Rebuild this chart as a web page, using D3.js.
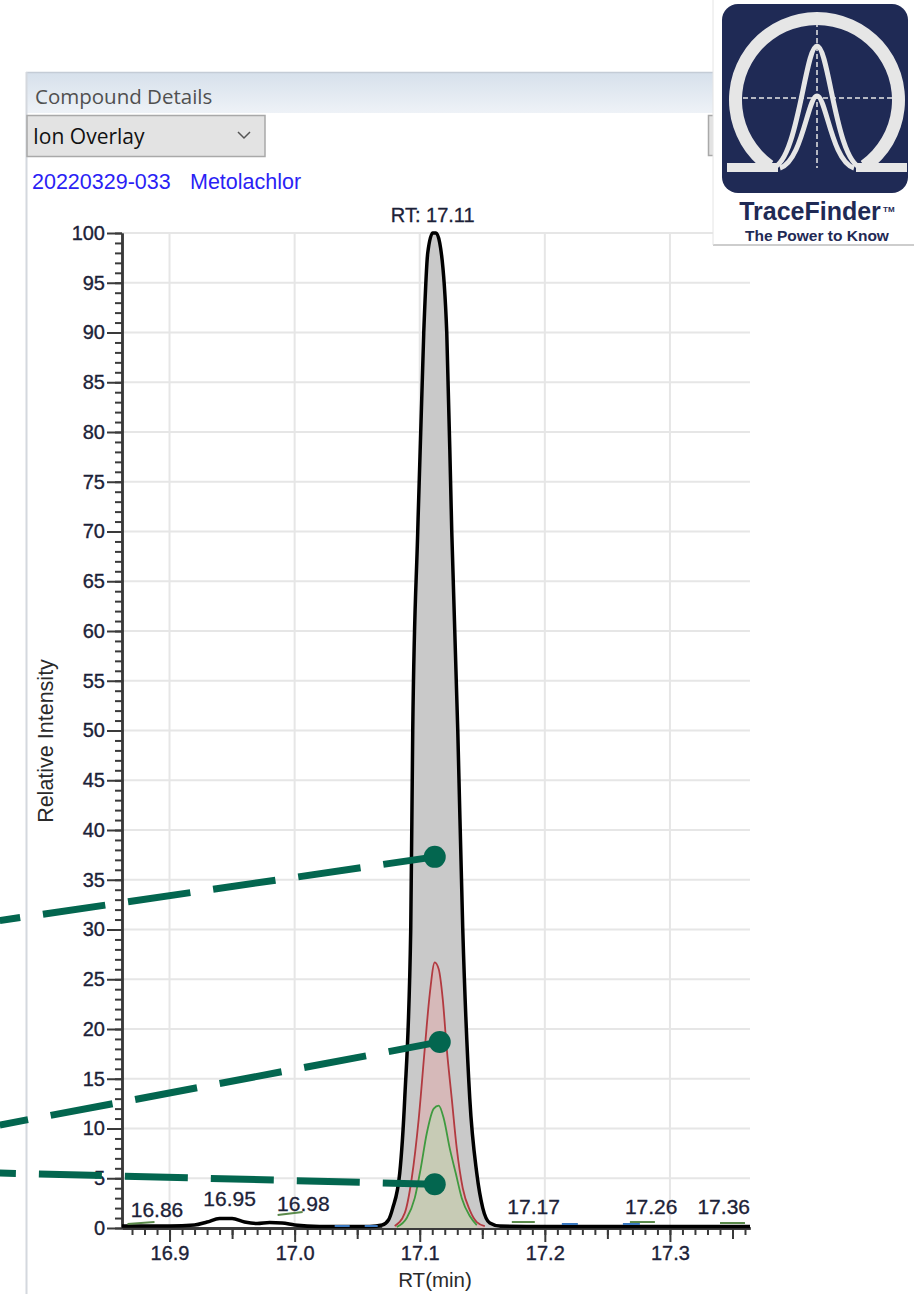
<!DOCTYPE html>
<html>
<head>
<meta charset="utf-8">
<script src="https://cdn.jsdelivr.net/npm/d3@7"></script>
<style>
  body { margin: 0; background: #fff; }
  svg { display: block; }
</style>
</head>
<body>
<div id="chart"></div>
<script>
/* chromatogram traces (RT in min, relative intensity in %) */
var rt_black = [16.862, 16.90, 16.92, 16.93, 16.94, 16.95, 16.96, 16.97, 16.98, 16.99, 17.00, 17.02, 17.06, 17.07,
                17.075, 17.0784, 17.084, 17.088, 17.0928, 17.0944, 17.0984, 17.1032, 17.1064, 17.1104, 17.113, 17.116,
                17.1216, 17.1256, 17.1304, 17.1344, 17.14, 17.1456, 17.1504, 17.156, 17.164, 17.20, 17.30, 17.364];
var int_black = [0.2, 0.2, 0.3, 0.6, 0.95, 0.95, 0.6, 0.45, 0.55, 0.5, 0.3, 0.15, 0.15, 0.3,
                 0.8, 2, 5.5, 13, 30, 50, 70, 90, 98, 100, 100, 99,
                 90, 70, 50, 30, 13, 5.5, 2, 0.5, 0.2, 0.15, 0.15, 0.15];

var rt_red = [17.080, 17.088, 17.0936, 17.0992, 17.104, 17.108, 17.112, 17.1152, 17.1184, 17.1216, 17.1256, 17.1296, 17.1344, 17.14, 17.1456, 17.152];
var int_red = [0.2, 1.5, 5, 11, 18, 23.5, 26.7, 26, 23, 18, 13, 8, 4, 1.8, 0.6, 0.2];

var rt_green = [17.0816, 17.0896, 17.096, 17.1008, 17.1056, 17.1112, 17.1152, 17.1192, 17.124, 17.1288, 17.1336, 17.14, 17.1456];
var int_green = [0.1, 1, 3, 6, 9.5, 12, 12.3, 11, 8, 5.5, 3, 1.2, 0.3];

// peak apex labels
var peak_labels = ["16.86", "16.95", "16.98", "17.17", "17.26", "17.36"];
var peak_label_rt = [16.869, 16.948, 16.986, 17.17, 17.264, 17.364];
var peak_label_int = [1.0, 2.1, 1.6, 1.3, 1.3, 1.3];
var peak_label_anchor = ["start", "middle", "start", "start", "start", "end"];

// small integration baselines of the other ions: [rt0, int0, rt1, int1, colour]
var marker_segments = [
  [16.8664, 0.4, 16.888, 0.6, "#5a8a4a"],
  [16.9864, 1.3, 17.0064, 1.6, "#5a8a4a"],
  [17.032, 0.2, 17.044, 0.2, "#3a78c0"],
  [17.056, 0.2, 17.0664, 0.2, "#3a78c0"],
  [17.1736, 0.6, 17.192, 0.6, "#5a8a4a"],
  [17.2136, 0.4, 17.2264, 0.4, "#3a78c0"],
  [17.2624, 0.4, 17.276, 0.4, "#3a78c0"],
  [17.268, 0.6, 17.288, 0.6, "#5a8a4a"],
  [17.34, 0.5, 17.36, 0.5, "#5a8a4a"]
];

var y_ticks = d3.range(0, 101, 5);
var x_tick_values = [16.9, 17.0, 17.1, 17.2, 17.3];
var x_tick_labels = ["16.9", "17.0", "17.1", "17.2", "17.3"];

// callout lines: dot on the peak, running off the left edge
var callout_dot_rt = [17.112, 17.116, 17.112];
var callout_dot_int = [37.3, 18.7, 4.4];
var callout_end_rt = [16.7643, 16.7643, 16.7643];
var callout_end_int = [30.9, 10.35, 5.53];

var width = 914, height = 1294;
var plot = {left: 122, right: 750, top: 233, bottom: 1228};

var svg = d3.select("#chart").append("svg")
            .attr("width", width)
            .attr("height", height);

var defs = svg.append("defs");
var grad = defs.append("linearGradient").attr("id", "titlebar")
               .attr("x1", 0).attr("y1", 0).attr("x2", 0).attr("y2", 1);
grad.append("stop").attr("offset", "0%").attr("stop-color", "#d6e0eb");
grad.append("stop").attr("offset", "100%").attr("stop-color", "#eef2f7");

svg.append("rect").attr("width", width).attr("height", height).style("fill", "#fff");

/* window chrome */
var uiFont = "'Open Sans', 'Noto Sans', sans-serif";
svg.append("rect").attr("x", 26).attr("y", 72).attr("width", width - 26).attr("height", 41)
   .style("fill", "url(#titlebar)");
svg.append("line").attr("x1", 26).attr("x2", width).attr("y1", 72.5).attr("y2", 72.5)
   .style("stroke", "#c4ccd6").style("stroke-width", 1.5);
svg.append("line").attr("x1", 26.5).attr("x2", 26.5).attr("y1", 72).attr("y2", height)
   .style("stroke", "#d4d8de").style("stroke-width", 2);
svg.append("text").attr("x", 35).attr("y", 104)
   .text("Compound Details")
   .style("font-family", uiFont).style("font-size", "20.5px").style("fill", "#505050");

// dropdown
svg.append("rect").attr("x", 27).attr("y", 115.5).attr("width", 238).attr("height", 41)
   .style("fill", "#e3e3e3").style("stroke", "#a9a9a9").style("stroke-width", 1.5);
svg.append("text").attr("x", 33).attr("y", 144)
   .text("Ion Overlay")
   .style("font-family", uiFont).style("font-size", "21px").style("fill", "#111");
svg.append("path").attr("d", "M238,132 L244,138 L250,132")
   .style("fill", "none").style("stroke", "#555").style("stroke-width", 1.5);
svg.append("rect").attr("x", 708.5).attr("y", 115.5).attr("width", 30).attr("height", 40)
   .style("fill", "#e3e3e3").style("stroke", "#a9a9a9").style("stroke-width", 1.5);

svg.append("text").attr("x", 32).attr("y", 189)
   .text("20220329-033")
   .style("font-family", "'Liberation Sans', Arial, sans-serif").style("font-size", "21.5px").style("fill", "#2b1ff5");
svg.append("text").attr("x", 190).attr("y", 189)
   .text("Metolachlor")
   .style("font-family", "'Liberation Sans', Arial, sans-serif").style("font-size", "21.5px").style("fill", "#2b1ff5");

/* scales */
var x = d3.scaleLinear().domain([16.862, 17.364]).range([plot.left, plot.right]);
var y = d3.scaleLinear().domain([0, 100]).range([plot.bottom, plot.top]);

/* grid */
var grid = svg.append("g").attr("class", "grid");
grid.selectAll("line.h").data(y_ticks.filter(function(d) { return d > 0; }))
    .enter().append("line").attr("class", "h")
    .attr("x1", plot.left).attr("x2", plot.right)
    .attr("y1", function(d) { return y(d); }).attr("y2", function(d) { return y(d); })
    .style("stroke", "#e6e6e6").style("stroke-width", 2);
grid.selectAll("line.v").data(x_tick_values)
    .enter().append("line").attr("class", "v")
    .attr("x1", function(d) { return x(d); }).attr("x2", function(d) { return x(d); })
    .attr("y1", plot.top).attr("y2", plot.bottom)
    .style("stroke", "#e6e6e6").style("stroke-width", 2);

/* axes */
var tickFont = "'Liberation Sans', Arial, sans-serif";

svg.append("g").attr("transform", "translate(" + plot.left + ",0)")
   .call(d3.axisLeft(y).tickValues(d3.range(0, 101)).tickSize(7).tickSizeOuter(0).tickFormat(""));
svg.append("g").attr("class", "yaxis").attr("transform", "translate(" + plot.left + ",0)")
   .call(d3.axisLeft(y).tickValues(y_ticks).tickSize(15).tickSizeOuter(0).tickPadding(2).tickFormat(d3.format("d")));

var x_minor = d3.range(1687, 1737).map(function(d) { return d / 100; });
var x_mid = [16.95, 17.05, 17.15, 17.25, 17.35];
svg.append("g").attr("transform", "translate(0," + plot.bottom + ")")
   .call(d3.axisBottom(x).tickValues(x_minor).tickSize(7).tickSizeOuter(0).tickFormat(""));
svg.append("g").attr("transform", "translate(0," + plot.bottom + ")")
   .call(d3.axisBottom(x).tickValues(x_mid).tickSize(11).tickSizeOuter(0).tickFormat(""));
svg.append("g").attr("class", "xaxis").attr("transform", "translate(0," + plot.bottom + ")")
   .call(d3.axisBottom(x).tickValues(x_tick_values).tickSize(14).tickSizeOuter(0).tickPadding(4)
           .tickFormat(function(d, i) { return x_tick_labels[i]; }));

svg.selectAll(".domain").style("stroke", "#3a3a3a").style("stroke-width", 2.5);
svg.selectAll(".tick line").style("stroke", "#3a3a3a").style("stroke-width", 2);
svg.selectAll(".tick text").style("font-family", tickFont).style("font-size", "20px").style("fill", "#1c2238")
   .style("stroke", "#1c2238").style("stroke-width", 0.35);

svg.append("text")
   .attr("transform", "translate(53,741) rotate(-90)")
   .attr("text-anchor", "middle")
   .text("Relative Intensity")
   .style("font-family", tickFont).style("font-size", "21.5px").style("fill", "#2a2a2a");
svg.append("text").attr("x", 435).attr("y", 1287).attr("text-anchor", "middle")
   .text("RT(min)")
   .style("font-family", tickFont).style("font-size", "20.5px").style("fill", "#2a2a2a");

/* traces */
function pts(rts, ints) {
  return rts.map(function(r, i) { return [r, ints[i]]; });
}
var black = pts(rt_black, int_black);
var red = pts(rt_red, int_red);
var green = pts(rt_green, int_green);

var line = d3.line().x(function(d) { return x(d[0]); }).y(function(d) { return y(d[1]); })
             .curve(d3.curveMonotoneX);
var area = d3.area().x(function(d) { return x(d[0]); }).y0(y(0)).y1(function(d) { return y(d[1]); })
             .curve(d3.curveMonotoneX);

var peak_only = black.filter(function(d) { return d[0] >= 17.07 && d[0] <= 17.164; });
svg.append("path").datum(peak_only).attr("d", area).style("fill", "#c9c9c9");
svg.append("path").datum(red).attr("d", area).style("fill", "#d6b9b9");
svg.append("path").datum(green).attr("d", area).style("fill", "#c7cbb5");

svg.append("path").datum(red).attr("d", line)
   .style("fill", "none").style("stroke", "#b23a40").style("stroke-width", 1.8);
svg.append("path").datum(green).attr("d", line)
   .style("fill", "none").style("stroke", "#3f9a3f").style("stroke-width", 1.8);
svg.append("path").datum(black).attr("d", line)
   .style("fill", "none").style("stroke", "#000").style("stroke-width", 3.5).style("stroke-linejoin", "round");

// other ions' integration marks
svg.selectAll("line.marker").data(marker_segments)
   .enter().append("line").attr("class", "marker")
   .attr("x1", function(d) { return x(d[0]); }).attr("y1", function(d) { return y(d[1]); })
   .attr("x2", function(d) { return x(d[2]); }).attr("y2", function(d) { return y(d[3]); })
   .style("stroke", function(d) { return d[4]; }).style("stroke-width", 2);

// labels
svg.selectAll("text.peak").data(peak_labels)
   .enter().append("text").attr("class", "peak")
   .attr("x", function(d, i) { return x(peak_label_rt[i]); })
   .attr("y", function(d, i) { return y(peak_label_int[i]) - 1; })
   .attr("text-anchor", function(d, i) { return peak_label_anchor[i]; })
   .text(function(d) { return d; })
   .style("font-family", tickFont).style("font-size", "21px").style("fill", "#1c2238")
   .style("stroke", "#1c2238").style("stroke-width", 0.3);

svg.append("text").attr("x", x(17.1104)).attr("y", 222).attr("text-anchor", "middle")
   .text("RT: 17.11")
   .style("font-family", tickFont).style("font-size", "20px").style("fill", "#1c2238")
   .style("stroke", "#1c2238").style("stroke-width", 0.3);

/* callouts */
var callout_color = "#03664f";
var callouts = callout_dot_rt.map(function(r, i) {
  return {x1: x(r), y1: y(callout_dot_int[i]), x2: x(callout_end_rt[i]), y2: y(callout_end_int[i])};
});
svg.selectAll("line.callout").data(callouts)
   .enter().append("line").attr("class", "callout")
   .attr("x1", function(d) { return d.x1; }).attr("y1", function(d) { return d.y1; })
   .attr("x2", function(d) { return d.x2; }).attr("y2", function(d) { return d.y2; })
   .style("stroke", callout_color).style("stroke-width", 7)
   .style("stroke-dasharray", "63,23").style("stroke-dashoffset", 11);
svg.selectAll("circle.callout").data(callouts)
   .enter().append("circle").attr("class", "callout")
   .attr("cx", function(d) { return d.x1; }).attr("cy", function(d) { return d.y1; })
   .attr("r", 11).style("fill", callout_color);

/* TraceFinder logo */
var logo = svg.append("g").attr("class", "logo");
var logoInk = "#e6e6e6";
logo.append("rect").attr("x", 713).attr("y", 0).attr("width", 201).attr("height", 245).style("fill", "#fff");
logo.append("line").attr("x1", 713).attr("x2", 914).attr("y1", 245).attr("y2", 245)
    .style("stroke", "#bdbdbd").style("stroke-width", 1.5);
logo.append("line").attr("x1", 713).attr("x2", 713).attr("y1", 0).attr("y2", 245)
    .style("stroke", "#e4e4e4").style("stroke-width", 1);
logo.append("rect").attr("x", 722).attr("y", 4).attr("width", 186).attr("height", 189).attr("rx", 16)
    .style("fill", "#1f2a55");
logo.append("line").attr("x1", 817).attr("x2", 817).attr("y1", 14).attr("y2", 168)
    .style("stroke", logoInk).style("stroke-width", 1.5).style("stroke-dasharray", "5,3");
logo.append("line").attr("x1", 735).attr("x2", 900).attr("y1", 98).attr("y2", 98)
    .style("stroke", logoInk).style("stroke-width", 1.5).style("stroke-dasharray", "5,3");
logo.append("path")
    .attr("transform", "translate(817,100)")
    .attr("d", d3.arc().innerRadius(75).outerRadius(88).startAngle(-2.52).endAngle(2.52)())
    .style("fill", logoInk);
logo.append("path").attr("d", "M727,163 L778,163 L778,172 L727,172 Z M856,163 L907,163 L907,172 L856,172 Z")
    .style("fill", logoInk);
logo.append("path").attr("d", "M772,168 C798,164 805,46 817,46 C829,46 836,164 862,168")
    .style("fill", "none").style("stroke", logoInk).style("stroke-width", 5);
logo.append("path").attr("d", "M780,168 C802,162 808,96 817,96 C826,96 832,162 854,168")
    .style("fill", "none").style("stroke", logoInk).style("stroke-width", 5);
logo.append("text").attr("x", 810).attr("y", 220).attr("text-anchor", "middle")
    .text("TraceFinder")
    .style("font-family", tickFont).style("font-weight", "bold").style("font-size", "25px").style("fill", "#1f2a55");
logo.append("text").attr("x", 883).attr("y", 212)
    .text("TM")
    .style("font-family", tickFont).style("font-weight", "bold").style("font-size", "8px").style("fill", "#1f2a55");
logo.append("text").attr("x", 817).attr("y", 241).attr("text-anchor", "middle")
    .text("The Power to Know")
    .style("font-family", tickFont).style("font-weight", "bold").style("font-size", "15.5px").style("fill", "#1f2a55");
</script>
</body>
</html>
